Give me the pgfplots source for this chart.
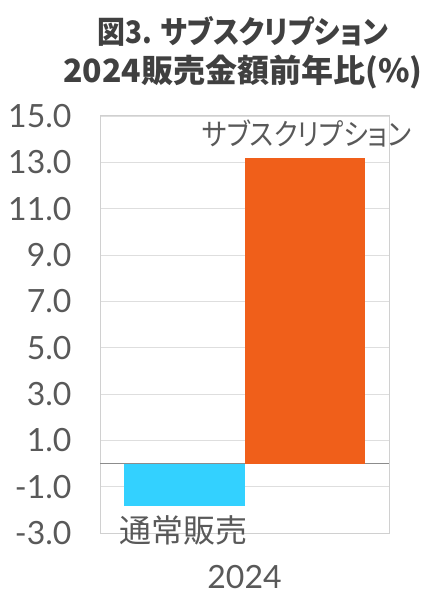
\documentclass[border=0pt]{standalone}
\usepackage{fontspec}
\setmainfont{Lato}
\newfontfamily\jp{Noto Sans CJK JP}[RawFeature=+palt]
\newfontfamily\jpt{Noto Sans CJK JP}
\usepackage{pgfplots}
\pgfplotsset{compat=1.18}

\definecolor{barcyan}{HTML}{33D1FF}
\definecolor{barorange}{HTML}{F05F1A}
\definecolor{txtgray}{HTML}{595959}
\definecolor{titlegray}{HTML}{404040}
\definecolor{framegray}{HTML}{D0D0D0}

\begin{document}
\begin{tikzpicture}[x=1pt,y=1pt]
    \useasboundingbox (0,0) rectangle (445,600);

    % title
    \node[font=\jp\bfseries\fontsize{31}{36}\selectfont, text=titlegray, xscale=0.9]
        at (243,569) {図3. サブスクリプション};
    \node[font=\jpt\bfseries\fontsize{32}{36}\selectfont, text=titlegray]
        at (243,528) {2024販売金額前年比(\%)};

    \begin{axis}[
        at={(100pt,67pt)},
        anchor=south west,
        scale only axis,
        width  = 289pt,
        height = 417pt,
        % bars
        ybar = 0pt,
        bar width = 120pt,
        % axes
        xmin = -1, xmax = 1,
        ymin = -3, ymax = 15,
        ytick = {-3,-1,...,15},
        xtick = {0},
        xticklabels = {2024},
        major tick length = 0pt,
        axis line style = {framegray, line width=1pt},
        % labels
        /pgf/number format/assume math mode=true,
        /pgf/number format/fixed,
        /pgf/number format/fixed zerofill,
        /pgf/number format/precision = 1,
        ticklabel style = {font=\fontsize{32}{38}\selectfont, text=txtgray},
        yticklabel style = {xshift=-25pt},
        xticklabel style = {yshift=-29pt},
        % grid
        ymajorgrids = true,
        grid style = {framegray!70, line width=0.6pt},
        extra y ticks = {0},
        extra y tick labels = {},
        extra y tick style = {grid=major, major grid style={gray!90, line width=1.2pt}},
        clip = false,
    ]
        % 通常販売
        \addplot[fill=barcyan, draw=none] coordinates {(0,-1.85)};
        % サブスクリプション
        \addplot[fill=barorange, draw=none] coordinates {(0,13.2)};

        \node[font=\jp\fontsize{32}{38}\selectfont, text=txtgray]
            at (axis cs:-0.42,-2.9) {通常販売};
        \node[font=\jp\fontsize{30}{36}\selectfont, text=txtgray, xscale=0.88]
            at (axis cs:0.43,14.25) {サブスクリプション};
    \end{axis}
\end{tikzpicture}
\end{document}
